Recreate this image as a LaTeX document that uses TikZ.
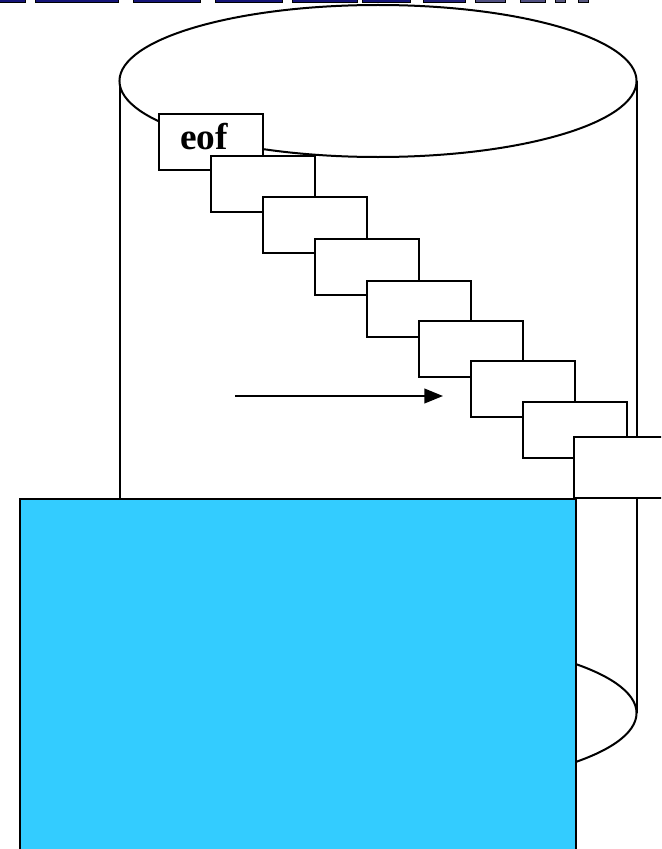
\documentclass[tikz,border=0pt]{standalone}
\usepackage{fontspec}
\setmainfont{Liberation Serif}
\usetikzlibrary{positioning,arrows.meta}
\definecolor{sky}{RGB}{51,204,255}
\definecolor{titleblue}{RGB}{20,20,120}
\definecolor{titlegrey}{RGB}{80,80,130}

\begin{document}
\begin{tikzpicture}[
    x=0.75pt, y=-0.75pt,
    line width=1.5pt,
    recbox/.style={draw, fill=white, anchor=north west, minimum width=78pt, minimum height=42pt, inner sep=0pt},
    titlebit/.style={draw, line width=0.7pt, fill=titleblue},
    arrow/.style={-{Triangle[length=14pt, width=11pt]}, line width=1.5pt}
]
\useasboundingbox (0,0) rectangle (661,849);
\clip (0,0) rectangle (661,849);

% ========== CUT-OFF TITLE (TOP EDGE) ==========
\draw[titlebit] (-5,-6) rectangle (25,2);
\draw[titlebit] (35,-6) rectangle (118,2);
\draw[titlebit] (133,-6) rectangle (200,2);
\draw[titlebit] (215,-6) rectangle (282,2);
\draw[titlebit] (292,-6) rectangle (357,2);
\draw[titlebit] (362,-6) rectangle (410,2);
\draw[titlebit, fill=titleblue!80!titlegrey] (423,-6) rectangle (465,2);
\draw[titlebit, fill=titlegrey] (475,-6) rectangle (505,2);
\draw[titlebit, fill=titlegrey] (520,-6) rectangle (545,2);
\draw[titlebit, fill=titlegrey!80!gray] (555,-6) rectangle (565,2);
\draw[titlebit, fill=titlegrey!80!gray] (578,-6) rectangle (588,2);

% ========== DISK (CYLINDER) ==========
\draw (378,713) ellipse [x radius=193.9pt, y radius=57pt];
\draw (120,81) -- (120,713);
\draw (637,81) -- (637,713);
\draw[fill=white] (378,81) ellipse [x radius=193.9pt, y radius=57pt];

% ========== RECORDS (STAIRCASE) ==========
\node[recbox] (r1) at (158,113) {};
\node[font=\bfseries\fontsize{28}{30}\selectfont, inner sep=0pt] (eof) at (204,137) {eof};
\node[recbox] (r2) at (210,155) {};
\node[recbox] (r3) at (262,196) {};
\node[recbox] (r4) at (314,238) {};
\node[recbox] (r5) at (366,280) {};
\node[recbox] (r6) at (418,320) {};
\node[recbox] (r7) at (470,360) {};
\node[recbox] (r8) at (522,401) {};
\node[recbox, minimum height=45.75pt] (r9) at (573,436) {};

% ========== HEAD ==========
\node[draw, fill=sky, anchor=north west, minimum width=417pt, minimum height=280pt, inner sep=0pt] (head) at (19,498) {};

% ========== DIRECTION ==========
\coordinate (from) at (235,396);
\coordinate (to) at (443,396);
\draw[arrow] (from) -- (to);

\end{tikzpicture}
\end{document}
